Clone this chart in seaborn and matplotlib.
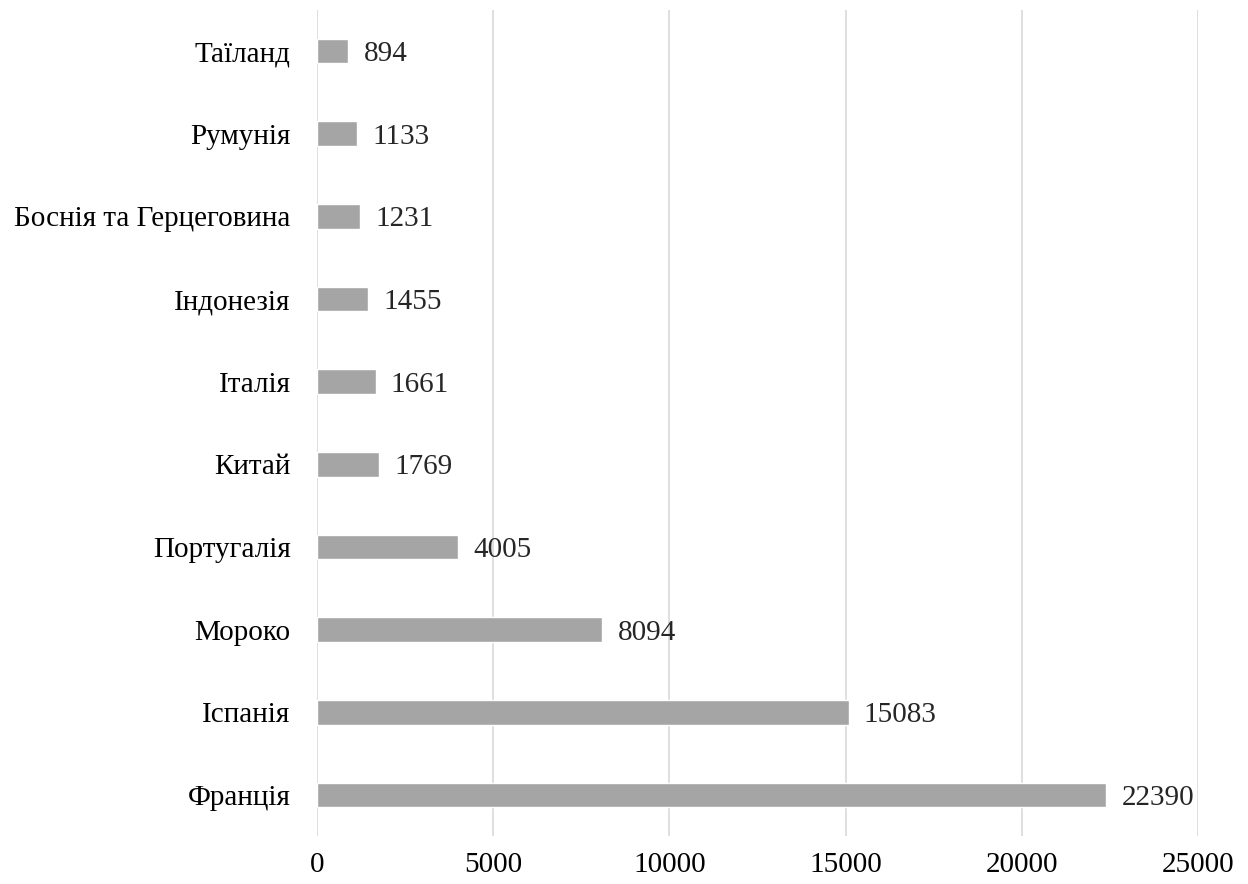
import seaborn as sns
import matplotlib.pyplot as plt

# countries and values, top to bottom as in the chart
countries = ['Таїланд', 'Румунія', 'Боснія та Герцеговина', 'Індонезія', 'Італія',
             'Китай', 'Португалія', 'Мороко', 'Іспанія', 'Франція']
values = [894, 1133, 1231, 1455, 1661, 1769, 4005, 8094, 15083, 22390]
x_ticks = [0, 5000, 10000, 15000, 20000, 25000]

sns.set_style('white')
plt.rcParams['font.family'] = ['Liberation Serif', 'DejaVu Serif']

fig = plt.figure(figsize=(12.48, 8.84), dpi=100)
ax = fig.add_axes([0.254, 0.054, 0.706, 0.935])

sns.barplot(x=values, y=countries, orient='h', color='#a5a5a5',
            saturation=1, width=0.30, ax=ax)

ax.set_xlim(0, 25000)
ax.set_ylim(9.5, -0.5)
ax.set_xticks(x_ticks)
ax.xaxis.grid(True, color='#d9d9d9', linewidth=1.2)
ax.set_axisbelow(True)
for s in ax.spines.values():
    s.set_visible(False)
ax.tick_params(axis='both', length=0, labelsize=21, colors='black')
ax.tick_params(axis='x', pad=11)
ax.tick_params(axis='y', pad=19)

# value labels right of the bars
for i, v in enumerate(values):
    ax.annotate(str(v), xy=(v, i), xytext=(11, 0), textcoords='offset points',
                va='center_baseline', ha='left', fontsize=21)

ax.set_xlabel('')
ax.set_ylabel('')
fig.savefig('out.png', dpi=100)
